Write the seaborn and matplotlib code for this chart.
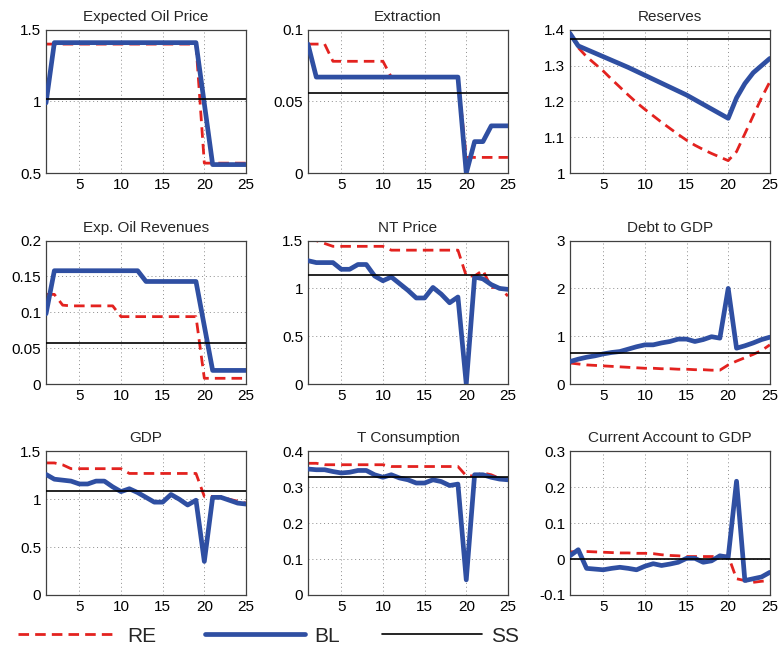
import numpy as np
import matplotlib
matplotlib.use("Agg")
import matplotlib.pyplot as plt
import seaborn as sns
from matplotlib.ticker import FuncFormatter

### data (periods 1..25)
periods = list(range(1, 26))

oil_price_re = [1.40, 1.40, 1.40, 1.40, 1.40, 1.40, 1.40, 1.40, 1.40, 1.40, 1.40, 1.40, 1.40,
                1.40, 1.40, 1.40, 1.40, 1.40, 1.40, 0.57, 0.57, 0.57, 0.57, 0.57, 0.57]
oil_price_bl = [0.99, 1.41, 1.41, 1.41, 1.41, 1.41, 1.41, 1.41, 1.41, 1.41, 1.41, 1.41, 1.41,
                1.41, 1.41, 1.41, 1.41, 1.41, 1.41, 0.985, 0.56, 0.56, 0.56, 0.56, 0.56]
oil_price_ss = 1.02

extraction_re = [0.090, 0.090, 0.090, 0.078, 0.078, 0.078, 0.078, 0.078, 0.078, 0.078, 0.067, 0.067, 0.067,
                 0.067, 0.067, 0.067, 0.067, 0.067, 0.067, 0.011, 0.011, 0.011, 0.011, 0.011, 0.011]
extraction_bl = [0.090, 0.067, 0.067, 0.067, 0.067, 0.067, 0.067, 0.067, 0.067, 0.067, 0.067, 0.067, 0.067,
                 0.067, 0.067, 0.067, 0.067, 0.067, 0.067, 0.000, 0.022, 0.022, 0.033, 0.033, 0.033]
extraction_ss = 0.0556

reserves_re = [1.39, 1.35, 1.325, 1.305, 1.285, 1.262, 1.240, 1.218, 1.197, 1.178, 1.160, 1.142, 1.125,
               1.108, 1.092, 1.078, 1.066, 1.055, 1.045, 1.035, 1.060, 1.110, 1.160, 1.210, 1.255]
reserves_bl = [1.39, 1.355, 1.345, 1.335, 1.325, 1.315, 1.305, 1.295, 1.284, 1.273, 1.262, 1.251, 1.240,
               1.229, 1.218, 1.205, 1.192, 1.179, 1.166, 1.153, 1.210, 1.250, 1.280, 1.300, 1.320]
reserves_ss = 1.375

revenues_re = [0.125, 0.125, 0.110, 0.109, 0.109, 0.109, 0.109, 0.109, 0.109, 0.094, 0.094, 0.094, 0.094,
               0.094, 0.094, 0.094, 0.094, 0.094, 0.094, 0.008, 0.008, 0.008, 0.008, 0.008, 0.008]
revenues_bl = [0.098, 0.158, 0.158, 0.158, 0.158, 0.158, 0.158, 0.158, 0.158, 0.158, 0.158, 0.158, 0.143,
               0.143, 0.143, 0.143, 0.143, 0.143, 0.143, 0.081, 0.019, 0.019, 0.019, 0.019, 0.019]
revenues_ss = 0.057

nt_price_re = [1.50, 1.50, 1.47, 1.44, 1.44, 1.44, 1.44, 1.44, 1.44, 1.44, 1.40, 1.40, 1.40,
               1.40, 1.40, 1.40, 1.40, 1.40, 1.40, 1.13, 1.13, 1.19, 1.01, 1.01, 0.92]
nt_price_bl = [1.29, 1.27, 1.27, 1.27, 1.20, 1.20, 1.25, 1.25, 1.13, 1.08, 1.12, 1.05, 0.98,
               0.90, 0.90, 1.01, 0.94, 0.85, 0.91, 0.00, 1.12, 1.10, 1.04, 1.00, 0.99]
nt_price_ss = 1.14

debt_re = [0.44, 0.42, 0.40, 0.39, 0.38, 0.37, 0.36, 0.35, 0.34, 0.33, 0.33, 0.32, 0.32,
           0.31, 0.31, 0.30, 0.30, 0.29, 0.29, 0.40, 0.48, 0.55, 0.62, 0.70, 0.82]
debt_bl = [0.47, 0.52, 0.56, 0.59, 0.63, 0.66, 0.68, 0.73, 0.78, 0.82, 0.82, 0.86, 0.89,
           0.94, 0.94, 0.89, 0.93, 0.99, 0.96, 2.00, 0.75, 0.80, 0.86, 0.93, 0.98]
debt_ss = 0.65

gdp_re = [1.38, 1.38, 1.36, 1.32, 1.32, 1.32, 1.32, 1.32, 1.32, 1.32, 1.27, 1.27, 1.27,
          1.27, 1.27, 1.27, 1.27, 1.27, 1.27, 1.03, 1.03, 1.03, 1.00, 0.98, 0.96]
gdp_bl = [1.26, 1.21, 1.20, 1.19, 1.16, 1.16, 1.19, 1.19, 1.13, 1.08, 1.11, 1.07, 1.02,
          0.97, 0.97, 1.05, 1.00, 0.94, 0.99, 0.35, 1.02, 1.02, 0.99, 0.96, 0.95]
gdp_ss = 1.09

tcons_re = [0.367, 0.367, 0.363, 0.363, 0.363, 0.363, 0.363, 0.363, 0.363, 0.363, 0.358, 0.358, 0.358,
            0.358, 0.358, 0.358, 0.358, 0.358, 0.358, 0.332, 0.332, 0.340, 0.335, 0.325, 0.320]
tcons_bl = [0.351, 0.349, 0.349, 0.344, 0.340, 0.342, 0.347, 0.347, 0.335, 0.328, 0.335, 0.326, 0.321,
            0.312, 0.312, 0.321, 0.316, 0.305, 0.309, 0.042, 0.335, 0.335, 0.328, 0.323, 0.321]
tcons_ss = 0.330

ca_re = [0.020, 0.021, 0.021, 0.020, 0.019, 0.018, 0.017, 0.017, 0.016, 0.016, 0.015, 0.012, 0.010,
         0.009, 0.007, 0.007, 0.007, 0.007, 0.007, 0.009, -0.055, -0.060, -0.065, -0.062, -0.060]
ca_bl = [0.009, 0.026, -0.026, -0.028, -0.030, -0.026, -0.023, -0.026, -0.030, -0.020, -0.013, -0.018, -0.014,
         -0.009, 0.002, 0.002, -0.009, -0.005, 0.009, 0.005, 0.217, -0.060, -0.055, -0.050, -0.037]
ca_ss = 0.0

titles = ["Expected Oil Price", "Extraction", "Reserves",
          "Exp. Oil Revenues", "NT Price", "Debt to GDP",
          "GDP", "T Consumption", "Current Account to GDP"]
re_series = [oil_price_re, extraction_re, reserves_re, revenues_re, nt_price_re, debt_re, gdp_re, tcons_re, ca_re]
bl_series = [oil_price_bl, extraction_bl, reserves_bl, revenues_bl, nt_price_bl, debt_bl, gdp_bl, tcons_bl, ca_bl]
ss_values = [oil_price_ss, extraction_ss, reserves_ss, revenues_ss, nt_price_ss, debt_ss, gdp_ss, tcons_ss, ca_ss]
y_ticks = [[0.5, 1, 1.5], [0, 0.05, 0.1], [1, 1.1, 1.2, 1.3, 1.4],
           [0, 0.05, 0.1, 0.15, 0.2], [0, 0.5, 1, 1.5], [0, 1, 2, 3],
           [0, 0.5, 1, 1.5], [0, 0.1, 0.2, 0.3, 0.4], [-0.1, 0, 0.1, 0.2, 0.3]]
x_ticks = [5, 10, 15, 20, 25]
legend_labels = ["RE", "BL", "SS"]

red = "#e3221f"
blue = "#2f4fa2"

sns.set_style("white")
plt.rcParams["font.family"] = ["Liberation Sans", "DejaVu Sans"]

fig, axes = plt.subplots(3, 3, figsize=(7.8, 6.61), dpi=100)
fig.subplots_adjust(left=0.059, right=0.987, top=0.955, bottom=0.100, wspace=0.31, hspace=0.47)

for i, ax in enumerate(axes.flat):
    sns.lineplot(x=periods, y=re_series[i], ax=ax, color=red, lw=2.0,
                 linestyle=(0, (3.8, 2.2)), label="RE", legend=False, zorder=2)
    sns.lineplot(x=periods, y=bl_series[i], ax=ax, color=blue, lw=3.4,
                 label="BL", legend=False, zorder=3)
    sns.lineplot(x=periods, y=[ss_values[i]] * len(periods), ax=ax, color="black", lw=1.2,
                 label="SS", legend=False, zorder=4)
    ax.set_xlim(1, 25)
    ax.set_ylim(y_ticks[i][0], y_ticks[i][-1])
    ax.set_xticks(x_ticks)
    ax.set_yticks(y_ticks[i])
    ax.yaxis.set_major_formatter(FuncFormatter(lambda v, _: f"{v:g}"))
    ax.grid(True, linestyle=(0, (1, 3)), color="0.55", lw=0.7)
    ax.set_axisbelow(True)
    ax.tick_params(direction="in", length=3, labelsize=11, pad=3.5, colors="black")
    for s in ax.spines.values():
        s.set_color("0.25")
        s.set_linewidth(0.9)
    ax.set_title(titles[i], fontsize=11, pad=6.5)
    ax.set_xlabel("")
    ax.set_ylabel("")

### legend: one entry per column, placed where the reference has it
handles = axes.flat[0].get_lines()[:3]
legend_x = [18 / 780, 205 / 780, 382 / 780]
for h, lab, lx in zip(handles, legend_labels, legend_x):
    leg = fig.legend(handles=[h], labels=[lab], loc="center left",
                     bbox_to_anchor=(lx, 0.0378), frameon=False,
                     borderpad=0, borderaxespad=0,
                     handlelength=4.8, handletextpad=0.45,
                     prop={"family": ["Liberation Sans", "DejaVu Sans"], "size": 15})

fig.savefig("out.png", dpi=100)
